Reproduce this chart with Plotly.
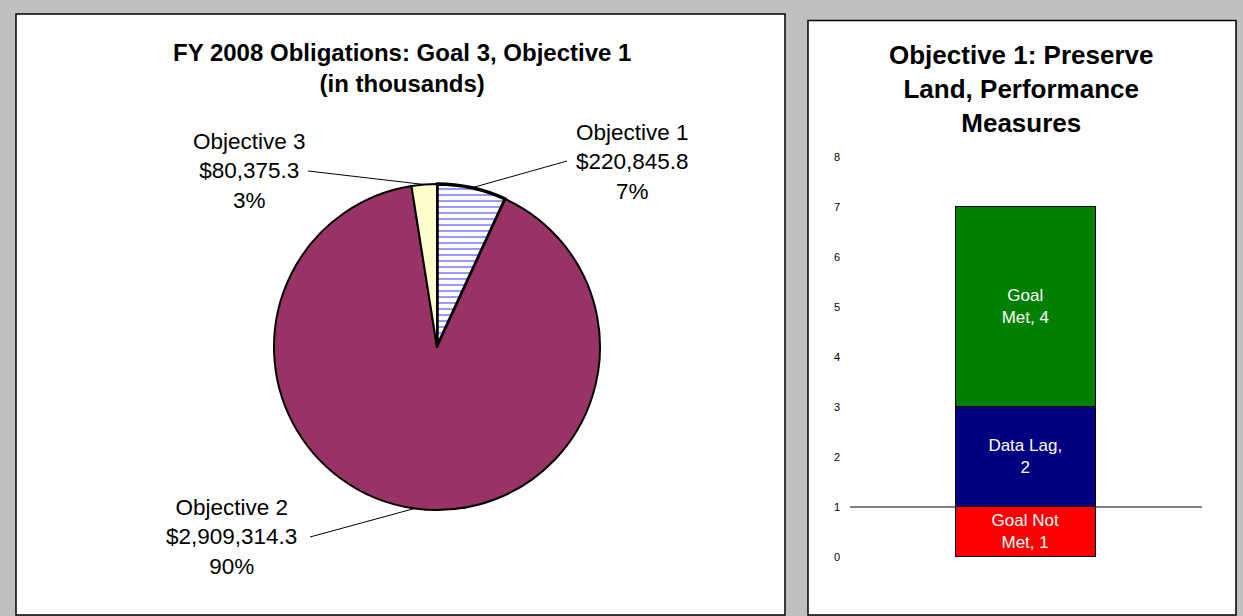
import math
import plotly.graph_objects as go

W, H = 1243, 616

# ---- Data: pie (FY 2008 obligations, in thousands) ----
pie_names = ["Objective 1", "Objective 2", "Objective 3"]
pie_values = [220845.8, 2909314.3, 80375.3]
pie_pct_labels = ["7%", "90%", "3%"]
pie_colors = ["#FFFFFF", "#993366", "#FFFFCC"]

# ---- Data: stacked bar (performance measures) ----
bar_category = ["Objective 1"]
bar_series = ["Goal Not Met", "Data Lag", "Goal Met"]
bar_values = [1, 2, 4]
bar_labels = ["Goal Not<br>Met, 1", "Data Lag,<br>2", "Goal<br>Met, 4"]
bar_colors = ["#FF0000", "#000080", "#008000"]
y_ticks = [0, 1, 2, 3, 4, 5, 6, 7, 8]
target_value = 1

FONT = "Liberation Sans, Arial, sans-serif"


def px(x):
    return x / W


def py(y):
    return 1 - y / H


# pie geometry (pixels)
cx, cy, r = 437, 347, 163

fig = go.Figure()

fig.add_trace(go.Pie(
    labels=pie_names,
    values=pie_values,
    sort=False,
    direction="clockwise",
    rotation=0,
    textinfo="none",
    hoverinfo="label+value+percent",
    showlegend=False,
    automargin=False,
    domain=dict(x=[px(cx - r), px(cx + r)], y=[py(cy + r), py(cy - r)]),
    marker=dict(
        colors=pie_colors,
        line=dict(color="black", width=[3.5, 2, 2]),
        pattern=dict(shape=["-", "", ""], fgcolor="#9999FF", bgcolor="#FFFFFF",
                     size=6, solidity=0.35, fillmode="replace"),
    ),
))

for name, val, lab, col in zip(bar_series, bar_values, bar_labels, bar_colors):
    fig.add_trace(go.Bar(
        x=bar_category, y=[val], name=name,
        text=[lab], textposition="inside", insidetextanchor="middle",
        textangle=0, constraintext="none",
        textfont=dict(color="white", size=17, family=FONT),
        marker=dict(color=col, line=dict(color="black", width=1.5)),
        width=0.4, showlegend=False,
        xaxis="x", yaxis="y",
    ))

shapes = [
    dict(type="rect", xref="paper", yref="paper", layer="below",
         x0=px(16), x1=px(785), y0=py(615), y1=py(14),
         fillcolor="white", line=dict(color="black", width=1.5)),
    dict(type="rect", xref="paper", yref="paper", layer="below",
         x0=px(808), x1=px(1236), y0=py(615), y1=py(20.5),
         fillcolor="white", line=dict(color="black", width=1.5)),
    dict(type="line", xref="x domain", yref="y", layer="below",
         x0=0, x1=1, y0=target_value, y1=target_value,
         line=dict(color="black", width=1)),
]

# pie labels with leader lines; pie-side end computed from slice mid-angles
label_pos = [(632, 162, 567, 161), (231, 537, 310, 537), (249, 171, 308, 171)]
total = sum(pie_values)
annotations = []
cum = 0.0
for name, val, pct, (tx, ty, lx, ly) in zip(pie_names, pie_values, pie_pct_labels, label_pos):
    mid = (cum + val / 2) / total * 2 * math.pi
    cum += val
    ex = cx + r * math.sin(mid)
    ey = cy - r * math.cos(mid)
    shapes.append(dict(type="line", xref="paper", yref="paper",
                       x0=px(lx), y0=py(ly), x1=px(ex), y1=py(ey),
                       line=dict(color="black", width=1)))
    annotations.append(dict(
        xref="paper", yref="paper", x=px(tx), y=py(ty),
        text=f"{name}<br>${val:,.1f}<br>{pct}", showarrow=False,
        xanchor="center", yanchor="middle", align="center",
        font=dict(size=22.5, color="black", family=FONT),
    ))

annotations.append(dict(
    xref="paper", yref="paper", x=px(402), y=py(68),
    text="<b>FY 2008 Obligations: Goal 3, Objective 1<br>(in thousands)</b>",
    showarrow=False, xanchor="center", yanchor="middle", align="center",
    font=dict(size=24, color="black", family=FONT),
))
annotations.append(dict(
    xref="paper", yref="paper", x=px(1022), y=py(89),
    text="<b>Objective 1: Preserve<br>Land, Performance<br>Measures</b>",
    showarrow=False, xanchor="center", yanchor="middle", align="center",
    font=dict(size=26, color="black", family=FONT),
))

fig.update_layout(
    width=W, height=H,
    margin=dict(l=0, r=0, t=0, b=0, pad=0, autoexpand=False),
    paper_bgcolor="#C0C0C0",
    plot_bgcolor="rgba(0,0,0,0)",
    barmode="stack",
    bargap=0,
    font=dict(family=FONT, color="black"),
    xaxis=dict(domain=[px(850), px(1202)], range=[-0.5, 0.5], automargin=False,
               showticklabels=False, showline=False, showgrid=False,
               zeroline=False, ticks=""),
    yaxis=dict(domain=[py(557), py(157)], range=[0, 8], automargin=False,
               tickvals=y_ticks, showline=False, showgrid=False,
               zeroline=False, ticks="", ticklabelstandoff=9,
               tickfont=dict(size=11, family=FONT, color="black")),
    shapes=shapes,
    annotations=annotations,
)

fig.write_html("out.html",
               config={"displayModeBar": False},
               post_script="document.body.style.margin='0';document.body.style.overflow='hidden';")
